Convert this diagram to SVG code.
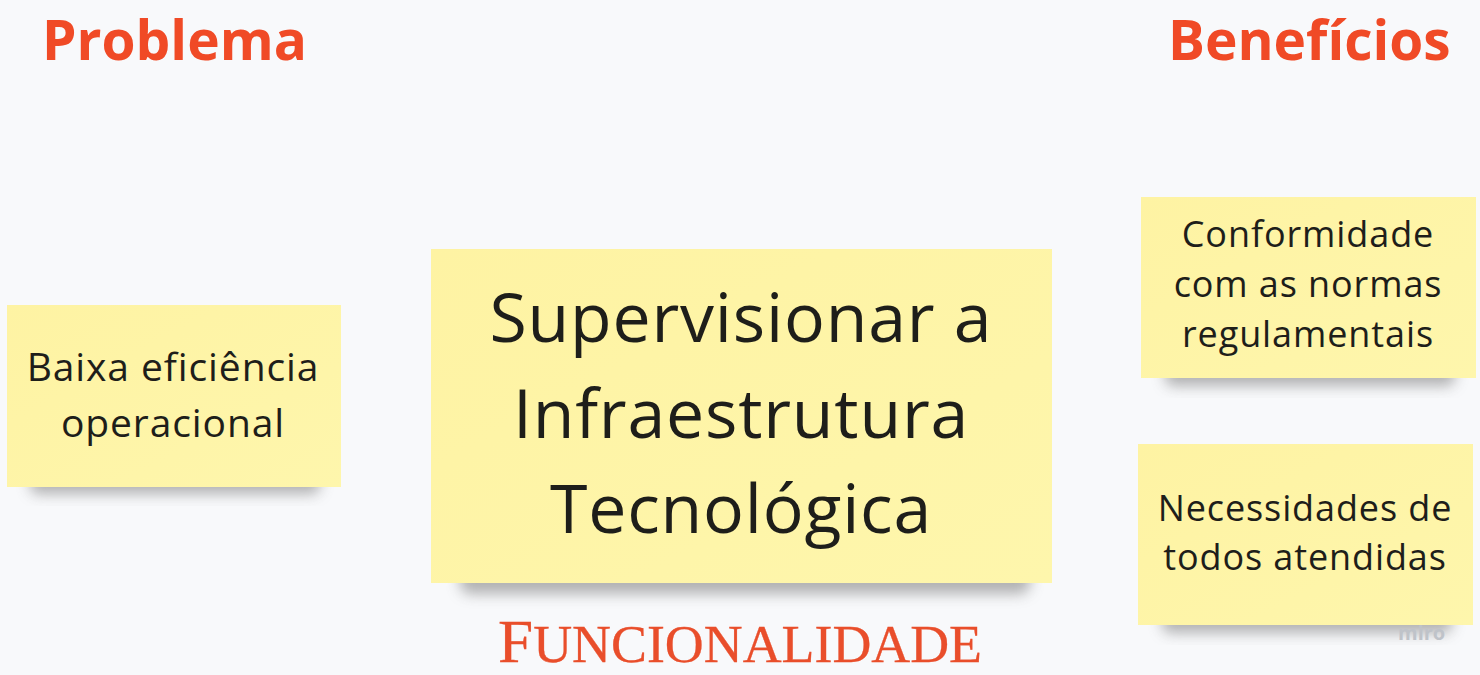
<svg xmlns="http://www.w3.org/2000/svg" width="1480" height="675" viewBox="0 0 1480 675">
<defs>
<filter id="blur" x="-20%" y="-50%" width="140%" height="200%"><feGaussianBlur stdDeviation="7"/></filter>
<linearGradient id="note" x1="0" y1="0" x2="1" y2="1">
<stop offset="0" stop-color="#FEF3A3"/>
<stop offset="1" stop-color="#FEF6AC"/>
</linearGradient>
</defs>
<style>
.title{font-family:"Open Sans","Liberation Sans",sans-serif;font-weight:bold;fill:#F04A26;font-size:55px}
.note{fill:url(#note)}
.shadow{fill:#6b6b6b;opacity:0.5;filter:url(#blur)}
.t{font-family:"Open Sans","Liberation Sans",sans-serif;fill:#1e1e1a;text-anchor:middle}
.func{font-family:"Liberation Serif",serif;fill:#E94E2B;stroke:#E94E2B;stroke-width:0.3}
</style>
<rect width="1480" height="675" fill="#F8F9FB"/>
<text class="title" x="42" y="60">Problema</text>
<text class="title" x="1168" y="60">Benefícios</text>

<g id="node-problem">
<rect class="shadow" x="30" y="470" width="290" height="24" rx="8"/>
<rect class="note" x="7" y="305" width="334" height="182"/>
<text class="t" font-size="39" letter-spacing="0.9" x="173" y="381">Baixa eficiência</text>
<text class="t" font-size="39" letter-spacing="0.9" x="173" y="437">operacional</text>
</g>

<g id="node-center">
<rect class="shadow" x="460" y="562" width="570" height="32" rx="10"/>
<rect class="note" x="431" y="249" width="621" height="334"/>
<text class="t" font-size="68" letter-spacing="0.8" x="741" y="342">Supervisionar a</text>
<text class="t" font-size="68" letter-spacing="0.8" x="741" y="438">Infraestrutura</text>
<text class="t" font-size="68" letter-spacing="0.8" x="741" y="533">Tecnológica</text>
</g>

<g id="node-benefit1">
<rect class="shadow" x="1165" y="362" width="290" height="24" rx="8"/>
<rect class="note" x="1141" y="197" width="335" height="181"/>
<text class="t" font-size="36" letter-spacing="0.9" x="1308" y="247">Conformidade</text>
<text class="t" font-size="36" letter-spacing="0.9" x="1308" y="297">com as normas</text>
<text class="t" font-size="36" letter-spacing="0.9" x="1308" y="347">regulamentais</text>
</g>

<g id="node-benefit2">
<rect class="shadow" x="1162" y="609" width="290" height="24" rx="8"/>
<rect class="note" x="1138" y="444" width="335" height="181"/>
<text class="t" font-size="36" letter-spacing="0.9" x="1305" y="521">Necessidades de</text>
<text class="t" font-size="36" letter-spacing="0.9" x="1305" y="570">todos atendidas</text>
</g>

<g id="connectors"></g>

<text class="func" x="498" y="662" textLength="484" lengthAdjust="spacingAndGlyphs"><tspan font-size="61">F</tspan><tspan font-size="52">UNCIONALIDADE</tspan></text>
<text x="1398" y="640" font-family="Open Sans, Liberation Sans, sans-serif" font-weight="bold" font-size="20" fill="#BFC3C9">miro</text>
</svg>
